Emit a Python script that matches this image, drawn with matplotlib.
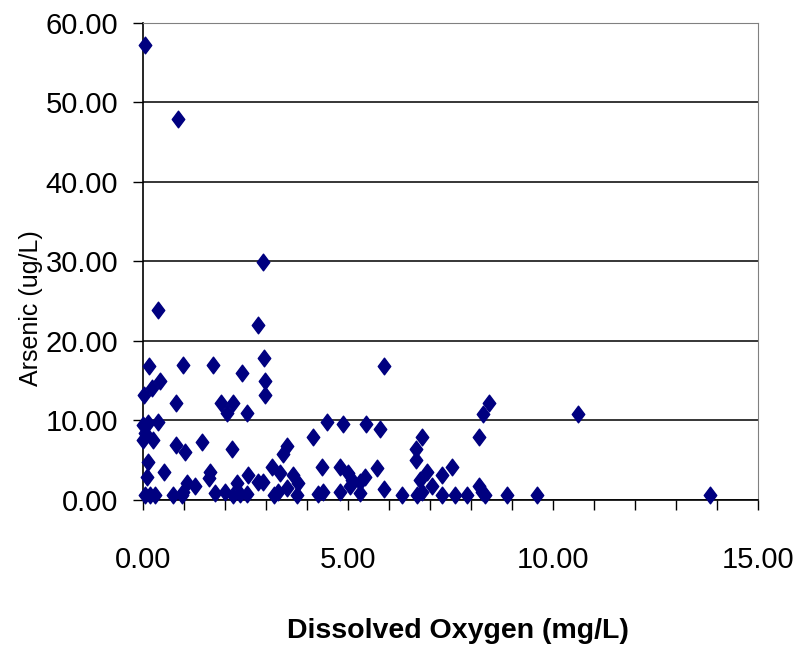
import matplotlib
matplotlib.use("Agg")
import matplotlib.pyplot as plt
from matplotlib.path import Path

# dissolved oxygen (mg/L) vs arsenic (ug/L)
oxygen = [0.05, 0.85, 2.93, 0.37, 2.80, 2.95, 0.15, 0.98, 1.70, 5.88,
          2.41, 2.97, 0.41, 0.22, 0.02, 2.97, 0.80, 1.90, 2.20, 2.05,
          2.53, 8.44, 8.30, 10.60, 0.37, 0.00, 0.12, 0.05, 0.00, 0.24,
          4.49, 4.88, 5.44, 5.78, 4.15, 6.80, 8.20, 0.80, 1.02, 1.43,
          2.17, 3.50, 3.42, 6.66, 6.66, 0.12, 0.50, 0.10, 1.63, 1.60,
          1.07, 1.27, 2.30, 2.56, 2.80, 2.93, 3.15, 3.34, 3.66, 3.78,
          4.37, 4.80, 5.00, 5.10, 5.70, 5.41, 5.30, 5.05, 6.93, 7.30,
          7.54, 7.05, 6.76, 5.88, 8.20, 8.27, 0.05, 0.17, 0.30, 0.73,
          0.95, 0.98, 1.75, 2.00, 2.37, 2.53, 3.30, 3.20, 3.75, 4.27,
          4.40, 4.80, 5.30, 6.32, 6.68, 6.80, 7.30, 7.60, 7.90, 8.35,
          8.87, 9.60, 13.83, 3.50, 2.20]
arsenic = [57.2, 47.9, 29.9, 23.9, 22.0, 17.9, 16.9, 17.0, 17.0, 16.9,
           16.0, 15.0, 15.0, 14.1, 13.2, 13.2, 12.2, 12.2, 12.2, 11.0,
           11.0, 12.2, 10.8, 10.8, 9.8, 9.4, 9.7, 8.4, 7.5, 7.5,
           9.8, 9.5, 9.5, 8.9, 7.9, 7.9, 7.9, 6.9, 6.0, 7.3,
           6.4, 6.8, 5.8, 6.4, 5.0, 4.8, 3.5, 2.9, 3.5, 2.8,
           2.1, 1.7, 2.1, 3.2, 2.3, 2.3, 4.2, 3.4, 3.2, 2.1,
           4.1, 4.2, 3.4, 2.5, 4.0, 2.9, 2.3, 1.8, 3.5, 3.1,
           4.1, 1.8, 2.5, 1.4, 1.8, 1.0, 0.6, 0.6, 0.6, 0.6,
           0.6, 1.0, 0.9, 1.0, 0.8, 0.8, 1.0, 0.6, 0.6, 0.7,
           1.0, 1.0, 0.9, 0.6, 0.6, 1.0, 0.6, 0.6, 0.6, 0.6,
           0.6, 0.6, 0.6, 1.5, 0.6]

x_ticks = [0, 5, 10, 15]
y_ticks = [0, 10, 20, 30, 40, 50, 60]

plt.rcParams['font.family'] = ['Liberation Sans', 'DejaVu Sans']

# excel style diamond, a bit taller than wide
diamond = Path([(0, 1), (0.75, 0), (0, -1), (-0.75, 0), (0, 1)],
               [Path.MOVETO, Path.LINETO, Path.LINETO, Path.LINETO, Path.CLOSEPOLY])

fig = plt.figure(figsize=(7.95, 6.52), dpi=100)
ax = fig.add_axes([0.18, 0.2331, 0.7735, 0.7321])

ax.plot(oxygen, arsenic, linestyle='none', marker=diamond, markersize=12,
        color='#000080', markeredgecolor='#000080', clip_on=False, zorder=3)

ax.set_xlim(0, 15)
ax.set_ylim(0, 60)
ax.set_xticks(x_ticks)
ax.set_xticks(range(0, 16), minor=True)
ax.set_yticks(y_ticks)
ax.set_xticklabels(['%.2f' % v for v in x_ticks])
ax.set_yticklabels(['%.2f' % v for v in y_ticks])

ax.grid(axis='y', color='black', linewidth=1.1, zorder=1)
ax.set_axisbelow(True)

for side in ['top', 'right']:
    ax.spines[side].set_color('#808080')
for side in ['left', 'bottom']:
    ax.spines[side].set_color('black')
    ax.spines[side].set_linewidth(1.2)

ax.tick_params(axis='x', which='both', direction='out', length=7, width=1,
               pad=26, labelsize=21)
ax.tick_params(axis='y', direction='out', length=7, width=1, pad=11, labelsize=21)

fig.text(0.576, 0.0215, 'Dissolved Oxygen (mg/L)', ha='center', va='baseline',
         fontsize=20.5, fontweight='bold')
fig.text(0.039, 0.527, 'Arsenic (ug/L)', ha='center', va='center',
         rotation=90, fontsize=18)

fig.savefig('out.png', dpi=100)
